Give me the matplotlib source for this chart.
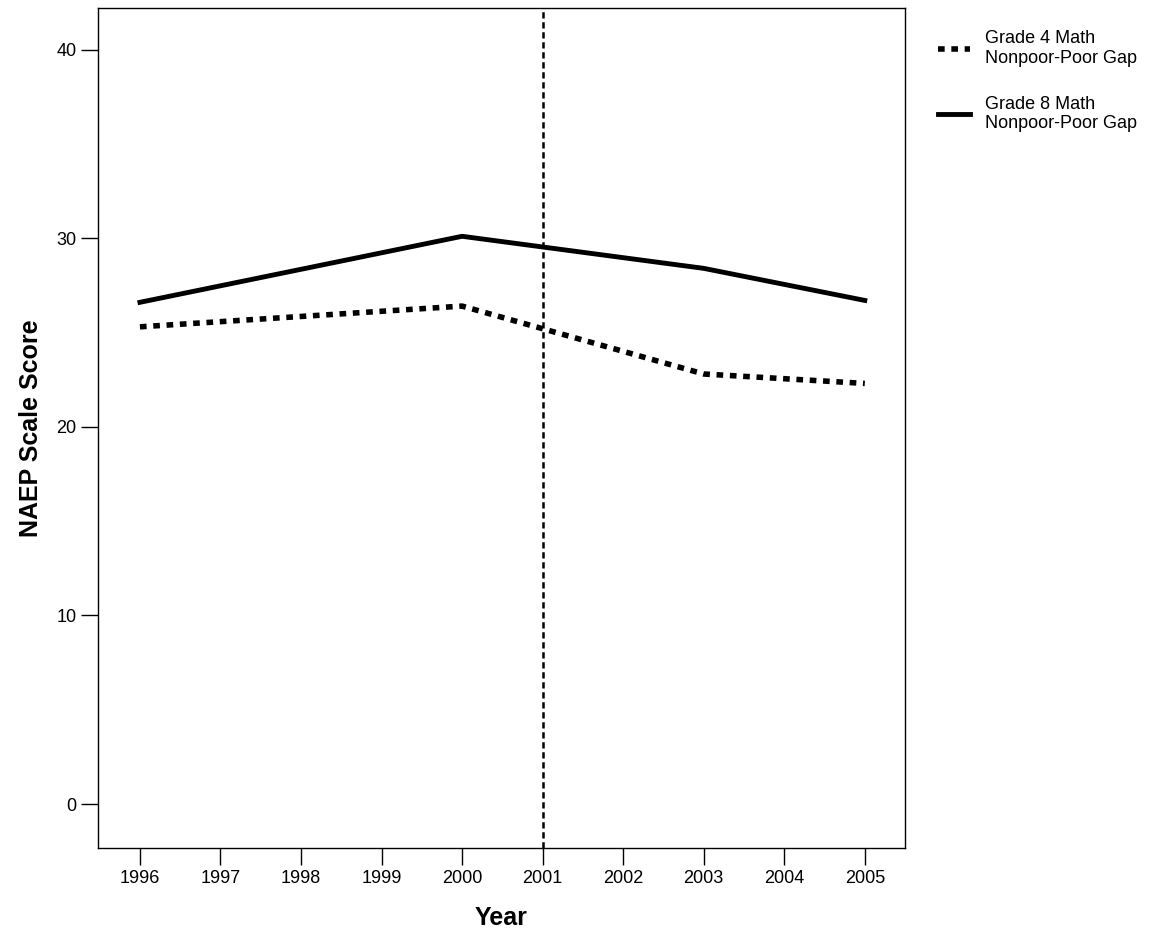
import matplotlib
matplotlib.use("Agg")
import matplotlib.pyplot as plt

years = [1996, 2000, 2003, 2005]
grade4_gap = [25.3, 26.4, 22.8, 22.3]
grade8_gap = [26.6, 30.1, 28.4, 26.7]
tick_years = list(range(1996, 2006))

plt.rcParams['font.family'] = ['Liberation Sans', 'DejaVu Sans']

fig = plt.figure(figsize=(11.59, 9.36), dpi=100)
ax = fig.add_axes([0.0846, 0.094, 0.6963, 0.8974])

l4, = ax.plot(years, grade4_gap, color='black', lw=4, linestyle=(0, (1.2, 1.2)))
l8, = ax.plot(years, grade8_gap, color='black', lw=3.5)
ax.axvline(2001, color='black', lw=1.8, linestyle=(0, (2.5, 1.5)))

ax.set_xlim(1995.48, 2005.5)
ax.set_ylim(-2.33, 42.2)
ax.set_xticks(tick_years)
ax.set_yticks([0, 10, 20, 30, 40])
ax.tick_params(direction='out', length=12, width=1, labelsize=13)
for s in ax.spines.values():
    s.set_linewidth(1)

ax.set_xlabel('Year', fontsize=18, fontweight='bold', labelpad=14)
ax.set_ylabel('NAEP Scale Score', fontsize=18, fontweight='bold', labelpad=10)

fig.legend([l4, l8], ['Grade 4 Math\nNonpoor-Poor Gap', 'Grade 8 Math\nNonpoor-Poor Gap'],
           loc='upper left', bbox_to_anchor=(0.795, 0.985), frameon=False,
           fontsize=13, handlelength=1.8, labelspacing=1.6)

fig.savefig('out.png', dpi=100)
